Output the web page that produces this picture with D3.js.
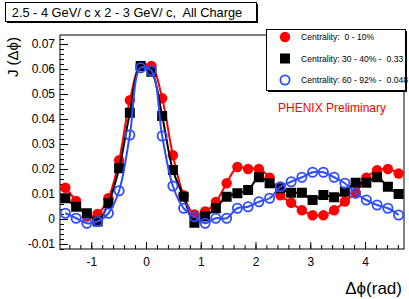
<!DOCTYPE html>
<html>
<head>
<meta charset="utf-8">
<script src="https://cdn.jsdelivr.net/npm/d3@7"></script>
<style>
  body { margin: 0; background: #fff; }
  svg { font-family: "Liberation Sans", Arial, sans-serif; }
  text { white-space: pre; }
</style>
</head>
<body>
<div id="chart"></div>
<script>
// bin centres in delta-phi (rad)
var phiBins = [-1.473, -1.276, -1.080, -0.884, -0.687, -0.491, -0.295, -0.098,
  0.098, 0.295, 0.491, 0.687, 0.884, 1.080, 1.276, 1.473,
  1.669, 1.865, 2.062, 2.258, 2.454, 2.651, 2.847, 3.043,
  3.240, 3.436, 3.632, 3.829, 4.025, 4.221, 4.418, 4.614];

var central = [0.0125, 0.0072, 0.0010, 0.0020, 0.0083, 0.0235, 0.0475, 0.0612,
  0.0612, 0.0483, 0.0255, 0.0095, 0.0018, 0.0030, 0.0068, 0.0143,
  0.0208, 0.0200, 0.0200, 0.0165, 0.0095, 0.0065, 0.0035, 0.0015,
  0.0015, 0.0035, 0.0070, 0.0105, 0.0165, 0.0195, 0.0200, 0.0182];

var midCentral = [0.0083, 0.0049, 0.0023, -0.0010, 0.0063, 0.0203, 0.0425, 0.0612,
  0.0589, 0.0412, 0.0196, 0.0089, -0.0015, 0.0010, 0.0043, 0.0089,
  0.0103, 0.0116, 0.0167, 0.0143, 0.0123, 0.0105, 0.0105, 0.0076,
  0.0096, 0.0087, 0.0109, 0.0145, 0.0145, 0.0167, 0.0129, 0.0100];

var peripheral = [0.0023, 0.0003, -0.0017, -0.0010, 0.0023, 0.0113, 0.0336, 0.0605,
  0.0593, 0.0332, 0.0132, 0.0043, 0.0009, -0.0017, 0.0003, 0.0003,
  0.0043, 0.0049, 0.0069, 0.0083, 0.0129, 0.0149, 0.0167, 0.0187,
  0.0187, 0.0167, 0.0143, 0.0103, 0.0076, 0.0056, 0.0043, 0.0016];

var legendLabels = ["Centrality:  0 - 10%", "Centrality: 30 - 40% -  0.33", "Centrality: 60 - 92% -  0.048"];
var xTicks = [-1, 0, 1, 2, 3, 4];
var yTicks = [-0.01, 0, 0.01, 0.02, 0.03, 0.04, 0.05, 0.06, 0.07];

var width = 409, height = 299;
var frameL = 60, frameR = 404, frameT = 35, frameB = 249;

var svg = d3.select("#chart").append("svg")
    .attr("width", width).attr("height", height);

var x = d3.scaleLinear().domain([-Math.PI / 2, 3 * Math.PI / 2]).range([frameL, frameR]);
var y = d3.scaleLinear().domain([-0.012, 0.0736]).range([frameB, frameT]);

// frame
svg.append("rect")
    .attr("x", frameL).attr("y", frameT)
    .attr("width", frameR - frameL).attr("height", frameB - frameT)
    .attr("fill", "none").attr("stroke", "#000").attr("stroke-width", 1);

// minor ticks
var yMinor = d3.range(-0.012, 0.0736, 0.002).map(function(d){ return Math.round(d * 1000) / 1000; });
var xMinor = d3.range(-1.4, 4.71, 0.2).map(function(d){ return Math.round(d * 10) / 10; });

svg.append("g").attr("transform", "translate(" + frameL + ",0)")
    .call(d3.axisLeft(y).tickValues(yMinor).tickSize(-4).tickFormat(""))
    .call(function(g){ g.select(".domain").remove(); });
svg.append("g").attr("transform", "translate(0," + frameB + ")")
    .call(d3.axisBottom(x).tickValues(xMinor).tickSize(-4).tickFormat(""))
    .call(function(g){ g.select(".domain").remove(); });

// major ticks + labels
var yAxis = svg.append("g").attr("transform", "translate(" + frameL + ",0)")
    .call(d3.axisLeft(y).tickValues(yTicks).tickSize(-8).tickPadding(5)
      .tickFormat(function(d){ return d === 0 ? "0" : d.toFixed(2); }));
yAxis.select(".domain").remove();
yAxis.selectAll("text").attr("font-size", "12px").attr("fill", "#000")
    .attr("font-family", "Liberation Sans, Arial, sans-serif");

var xAxis = svg.append("g").attr("transform", "translate(0," + frameB + ")")
    .call(d3.axisBottom(x).tickValues(xTicks).tickSize(-7).tickPadding(8)
      .tickFormat(function(d){ return String(d); }));
xAxis.select(".domain").remove();
xAxis.selectAll("text").attr("font-size", "12px").attr("fill", "#000")
    .attr("font-family", "Liberation Sans, Arial, sans-serif");

// axis titles
svg.append("text")
    .attr("transform", "translate(18,37) rotate(-90)")
    .attr("text-anchor", "end")
    .attr("font-size", "15px")
    .text("J (\u0394\u03d5)");

svg.append("text")
    .attr("x", 402).attr("y", 294)
    .attr("text-anchor", "end")
    .attr("font-size", "17px")
    .text("\u0394\u03d5(rad)");

// series
var series = [
  {values: central, color: "#ff0000", marker: "dot"},
  {values: midCentral, color: "#000000", marker: "square"},
  {values: peripheral, color: "#2e4dff", marker: "circle"}
];

var line = d3.line()
    .x(function(d){ return x(d[0]); })
    .y(function(d){ return y(d[1]); })
    .curve(d3.curveCatmullRom.alpha(0.5));

function drawMarker(g, type, color, cx, cy) {
  if (type === "square") {
    g.append("rect").attr("x", cx - 5).attr("y", cy - 5)
      .attr("width", 10).attr("height", 10).attr("fill", color);
  } else if (type === "dot") {
    g.append("circle").attr("cx", cx).attr("cy", cy).attr("r", 5.2).attr("fill", color);
  } else {
    g.append("circle").attr("cx", cx).attr("cy", cy).attr("r", 4.6)
      .attr("fill", "none").attr("stroke", color).attr("stroke-width", 1.8);
  }
}

var plot = svg.append("g");
series.forEach(function(s) {
  var pts = phiBins.map(function(p, i){ return [p, s.values[i]]; });
  plot.append("path").datum(pts)
    .attr("d", line)
    .attr("fill", "none")
    .attr("stroke", s.color)
    .attr("stroke-width", 2);
  var mg = plot.append("g");
  pts.forEach(function(d){ drawMarker(mg, s.marker, s.color, x(d[0]), y(d[1])); });
});

// title box with shadow
svg.append("rect").attr("x", 7).attr("y", 4).attr("width", 251).attr("height", 19).attr("fill", "#000");
svg.append("rect").attr("x", 5.5).attr("y", 2.5).attr("width", 251).attr("height", 19)
    .attr("fill", "#fff").attr("stroke", "#000").attr("stroke-width", 1);
svg.append("text").attr("x", 127).attr("y", 17)
    .attr("text-anchor", "middle").attr("font-size", "12.8px")
    .text("2.5 - 4 GeV/ c x 2 - 3 GeV/ c,  All Charge");

// legend box with shadow
svg.append("rect").attr("x", 268).attr("y", 31).attr("width", 139).attr("height", 61).attr("fill", "#000");
svg.append("rect").attr("x", 266.5).attr("y", 29.5).attr("width", 139).attr("height", 61)
    .attr("fill", "#fff").attr("stroke", "#000").attr("stroke-width", 1);
var lg = svg.append("g");
series.forEach(function(s, i) {
  var ly = 37 + i * 21.5;
  drawMarker(lg, s.marker, s.color, 285, ly);
  lg.append("text").attr("x", 301).attr("y", ly + 3)
    .attr("font-size", "8.6px").text(legendLabels[i]);
});

svg.append("text").attr("x", 278).attr("y", 112)
    .attr("font-size", "12px").attr("fill", "#ff0000")
    .text("PHENIX Preliminary");
</script>
</body>
</html>
